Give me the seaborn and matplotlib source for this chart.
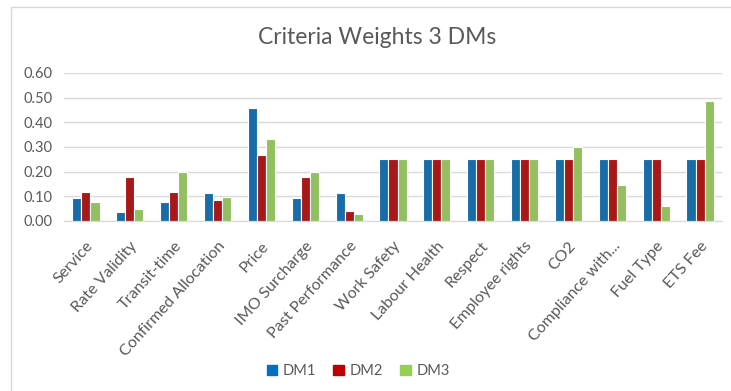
import matplotlib.pyplot as plt
import matplotlib.lines as mlines
import seaborn as sns
import pandas as pd

criteria = ["Service", "Rate Validity", "Transit-time", "Confirmed Allocation", "Price",
            "IMO Surcharge", "Past Performance", "Work Safety", "Labour Health", "Respect",
            "Employee rights", "CO2", "Compliance with...", "Fuel Type", "ETS Fee"]
dm1 = [0.093, 0.035, 0.079, 0.112, 0.457, 0.093, 0.112, 0.25, 0.25, 0.25, 0.25, 0.25, 0.25, 0.25, 0.25]
dm2 = [0.116, 0.177, 0.116, 0.086, 0.267, 0.177, 0.042, 0.25, 0.25, 0.25, 0.25, 0.25, 0.25, 0.25, 0.25]
dm3 = [0.078, 0.048, 0.198, 0.098, 0.333, 0.198, 0.027, 0.25, 0.25, 0.25, 0.25, 0.30, 0.146, 0.06, 0.488]
series = ["DM1", "DM2", "DM3"]
colors = ["#0070C0", "#C00000", "#92D050"]

df = pd.DataFrame({"Criteria": criteria * 3,
                   "Weight": dm1 + dm2 + dm3,
                   "DM": [s for s in series for _ in criteria]})

sns.set_style("white")
plt.rcParams['font.family'] = ['Lato', 'DejaVu Sans']
text_col = "#595959"

fig = plt.figure(figsize=(7.31, 3.91), dpi=100)
ax = fig.add_axes([64 / 731, 1 - 221 / 391, (722 - 64) / 731, (221 - 73) / 391])

sns.barplot(data=df, x="Criteria", y="Weight", hue="DM", palette=colors,
            width=0.62, edgecolor="white", linewidth=0.8, ax=ax, legend=False)

ax.set_ylim(0, 0.6)
ax.set_yticks([0, 0.1, 0.2, 0.3, 0.4, 0.5, 0.6])
ax.set_yticklabels([f"{v:.2f}" for v in ax.get_yticks()], color=text_col, fontsize=10.5)
ax.set_xlim(-0.5, len(criteria) - 0.5)
ax.set_xticks(range(len(criteria)))
ax.set_xticklabels(criteria, rotation=48, ha="right", rotation_mode="anchor",
                   color=text_col, fontsize=11.5)
ax.tick_params(axis="x", length=0, pad=13)
ax.tick_params(axis="y", length=0, pad=8)
ax.set_xlabel("")
ax.set_ylabel("")
ax.yaxis.grid(True, color="#D9D9D9", linewidth=1)
ax.set_axisbelow(True)
for s in ["top", "right", "left"]:
    ax.spines[s].set_visible(False)
ax.spines["bottom"].set_color("#D9D9D9")

fig.suptitle("Criteria Weights 3 DMs", x=377 / 731, y=1 - 38 / 391, va="center",
             fontsize=16.5, color=text_col)

handles = [plt.Rectangle((0, 0), 1, 1, color=c) for c in colors]
fig.legend(handles, series, loc="center", bbox_to_anchor=(0.49, 1 - 371 / 391),
           ncol=3, frameon=False, fontsize=10.5, handlelength=0.7, handleheight=0.7,
           handletextpad=0.4, columnspacing=1.2, labelcolor=text_col)

# outer chart border (only left and top visible in the reference crop)
fig.add_artist(mlines.Line2D([11 / 731, 11 / 731], [0, 1 - 7 / 391], color="#D9D9D9", lw=1))
fig.add_artist(mlines.Line2D([11 / 731, 1], [1 - 7 / 391, 1 - 7 / 391], color="#D9D9D9", lw=1))

fig.savefig("out.png", dpi=100)
